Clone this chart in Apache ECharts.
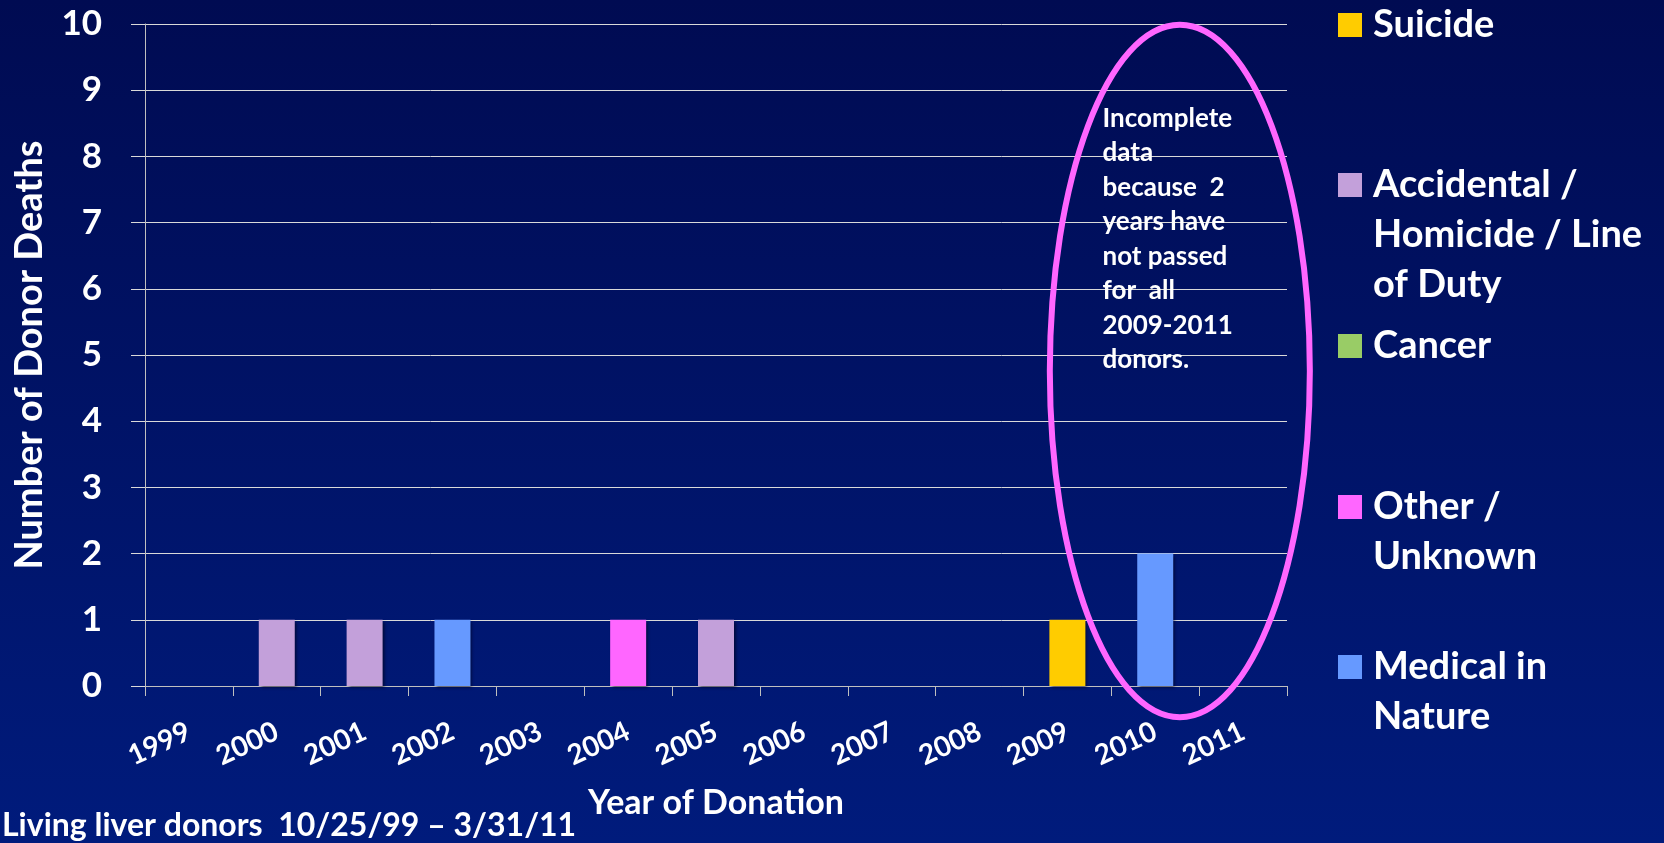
<!DOCTYPE html>
<html>
<head>
<meta charset="utf-8">
<script src="https://cdn.jsdelivr.net/npm/echarts@6/dist/echarts.min.js"></script>
<style>
  html, body { margin: 0; padding: 0; }
  #chart { width: 1664px; height: 843px; }
</style>
</head>
<body>
<div id="chart"></div>
<script>
// data
const years = ['1999', '2000', '2001', '2002', '2003', '2004', '2005', '2006', '2007', '2008', '2009', '2010', '2011'];
const suicide    = [0, 0, 0, 0, 0, 0, 0, 0, 0, 0, 1, 0, 0];
const accidental = [0, 1, 1, 0, 0, 0, 1, 0, 0, 0, 0, 0, 0];
const cancer     = [0, 0, 0, 0, 0, 0, 0, 0, 0, 0, 0, 0, 0];
const other      = [0, 0, 0, 0, 0, 1, 0, 0, 0, 0, 0, 0, 0];
const medical    = [0, 0, 0, 1, 0, 0, 0, 0, 0, 0, 0, 2, 0];
const yTicks = [0, 10, 1]; // min, max, step

const legendOrder = ['Suicide', 'Accidental / Homicide / Line of Duty', 'Cancer', 'Other / Unknown', 'Medical in Nature'];
const legendLines = {
    'Suicide': ['Suicide'],
    'Accidental / Homicide / Line of Duty': ['Accidental /', 'Homicide / Line', 'of Duty'],
    'Cancer': ['Cancer'],
    'Other / Unknown': ['Other /', 'Unknown'],
    'Medical in Nature': ['Medical in', 'Nature']
};
const note = ['Incomplete', 'data', 'because  2', 'years have', 'not passed', 'for  all', '2009-2011', 'donors.'];

const FONT = 'Lato, "Open Sans", sans-serif';
const colors = {
    'Suicide': '#ffcc00',
    'Accidental / Homicide / Line of Duty': '#c3a0da',
    'Cancer': '#99cc66',
    'Other / Unknown': '#ff66ff',
    'Medical in Nature': '#6699ff'
};

var myChart = echarts.init(document.getElementById('chart'));

// one legend per entry so each sits where it does on the slide
const LINE_H = 50;
const legendCenters = [25, 185, 346, 507, 667];
const legends = legendOrder.map((name, i) => {
    const lines = legendLines[name];
    // blank lines in front keep the square level with the first line
    const text = '\n'.repeat(lines.length - 1) + lines.join('\n');
    const half = (2 * lines.length - 1) * LINE_H / 2;
    return {
        data: [name],
        orient: 'vertical',
        left: 1338,
        top: legendCenters[i] - half,
        padding: 0,
        icon: 'rect',
        itemWidth: 24,
        itemHeight: 24,
        formatter: () => text,
        textStyle: {
            color: '#ffffff',
            fontFamily: FONT,
            fontWeight: 'bold',
            fontSize: 38,
            lineHeight: LINE_H,
            padding: [0, 0, 0, 6]
        }
    };
});

function barSeries(name, values) {
    return {
        name: name,
        type: 'bar',
        stack: 'deaths',
        barWidth: 36,
        data: values,
        itemStyle: {
            color: colors[name],
            shadowColor: 'rgba(0,0,20,0.6)',
            shadowBlur: 3,
            shadowOffsetX: 2,
            shadowOffsetY: 2
        }
    };
}

const option = {
    animation: false,
    backgroundColor: {
        type: 'linear', x: 0, y: 0, x2: 0, y2: 1,
        colorStops: [
            { offset: 0, color: '#000b52' },
            { offset: 1, color: '#001b7c' }
        ]
    },
    legend: legends,
    grid: { left: 145, right: 377, top: 24, bottom: 157 },
    xAxis: {
        type: 'category',
        data: years,
        name: 'Year of Donation',
        nameLocation: 'middle',
        nameGap: 100,
        nameTextStyle: { color: '#fff', fontFamily: FONT, fontWeight: 'bold', fontSize: 34 },
        axisLine: { lineStyle: { color: '#bfbfbf', width: 1 } },
        axisTick: { show: true, length: 10, lineStyle: { color: '#bfbfbf' } },
        axisLabel: {
            rotate: 25,
            margin: 44,
            color: '#fff',
            fontFamily: FONT,
            fontWeight: 'bold',
            fontSize: 28
        }
    },
    yAxis: {
        type: 'value',
        min: yTicks[0],
        max: yTicks[1],
        interval: yTicks[2],
        name: 'Number of Donor Deaths',
        nameLocation: 'middle',
        nameGap: 96,
        nameTextStyle: { color: '#fff', fontFamily: FONT, fontWeight: 'bold', fontSize: 38 },
        axisLine: { show: true, lineStyle: { color: '#bfbfbf', width: 1 } },
        axisTick: { show: true, length: 14, lineStyle: { color: '#d9d9d9' } },
        splitLine: { lineStyle: { color: '#d9d9d9', width: 1 } },
        axisLabel: {
            margin: 43,
            color: '#fff',
            fontFamily: FONT,
            fontWeight: 'bold',
            fontSize: 35
        }
    },
    // stacking order bottom -> top, legend reads top -> bottom
    series: [
        barSeries('Medical in Nature', medical),
        barSeries('Other / Unknown', other),
        barSeries('Cancer', cancer),
        barSeries('Accidental / Homicide / Line of Duty', accidental),
        barSeries('Suicide', suicide)
    ]
};
myChart.setOption(option);

// ellipse and note placed from the axes
const p2010 = myChart.convertToPixel({ gridIndex: 0 }, ['2010', 0]);
const p2011 = myChart.convertToPixel({ gridIndex: 0 }, ['2011', 10]);
const band = p2011[0] - p2010[0];
const y0 = p2010[1];
const y10 = p2011[1];
const cx = p2010[0] + band * 0.28;
const cy = (y0 + y10) / 2 + 16;
const rx = band * 1.48;
const ry = (y0 - y10) * 0.523;

myChart.setOption({
    graphic: [
        {
            type: 'ellipse',
            shape: { cx: cx, cy: cy, rx: rx, ry: ry },
            style: { fill: null, stroke: '#ff66ff', lineWidth: 6 },
            z: 100
        },
        {
            type: 'text',
            x: cx - band * 0.88,
            y: y10 + 77,
            style: {
                text: note.join('\n'),
                fill: '#fff',
                font: 'bold 26px ' + FONT,
                lineHeight: 34.5
            },
            z: 100
        },
        {
            type: 'text',
            left: 2,
            bottom: 1,
            style: {
                text: 'Living liver donors  10/25/99 \u2013 3/31/11',
                fill: '#fff',
                font: 'bold 32px ' + FONT
            }
        }
    ]
});
</script>
</body>
</html>
